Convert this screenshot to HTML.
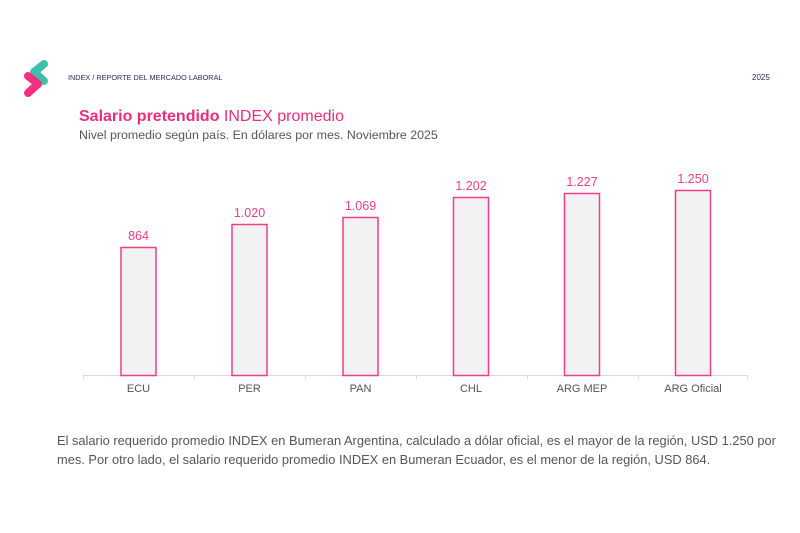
<!DOCTYPE html>
<html><head><meta charset="utf-8"><style>
body{margin:0;width:800px;height:533px;background:#fff;position:relative;overflow:hidden;font-family:"Liberation Sans",sans-serif}
.a{position:absolute;white-space:nowrap}
</style></head><body>
<svg class="a" style="left:0;top:0" width="800" height="533">
<path d="M44 64 L34 72 L44 81" stroke="#3dbfa8" stroke-width="8" fill="none" stroke-linecap="round" stroke-linejoin="round"/>
<path d="M28 76 L38 84 L28 93" stroke="#f0257a" stroke-width="8" fill="none" stroke-linecap="round" stroke-linejoin="round" opacity="0.95"/>
<line x1="83" y1="375.5" x2="748" y2="375.5" stroke="#d9d9d9" stroke-width="1"/>
<g stroke="#d9d9d9"><line x1="83.5" y1="375" x2="83.5" y2="379"/><line x1="194.5" y1="375" x2="194.5" y2="379"/><line x1="305.5" y1="375" x2="305.5" y2="379"/><line x1="416.5" y1="375" x2="416.5" y2="379"/><line x1="527.5" y1="375" x2="527.5" y2="379"/><line x1="638.5" y1="375" x2="638.5" y2="379"/><line x1="747.5" y1="375" x2="747.5" y2="379"/></g>
<g fill="#f2f2f2" stroke="#ec3e8c" stroke-width="1.5">
<rect x="121" y="247.5" width="35" height="128"/>
<rect x="232" y="224.5" width="35" height="151"/>
<rect x="343" y="217.5" width="35" height="158"/>
<rect x="453.5" y="197.5" width="35" height="178"/>
<rect x="564.5" y="193.5" width="35" height="182"/>
<rect x="675.5" y="190.5" width="35" height="185"/>
</g>
<g fill="#ec3e8c" font-size="12.5" text-anchor="middle" font-family="Liberation Sans,sans-serif">
<text x="138.5" y="240">864</text><text x="249.5" y="217">1.020</text><text x="360.5" y="210">1.069</text>
<text x="471" y="190">1.202</text><text x="582" y="186">1.227</text><text x="693" y="183">1.250</text>
</g>
<g fill="#555" font-size="11" text-anchor="middle" font-family="Liberation Sans,sans-serif">
<text x="138.5" y="392">ECU</text><text x="249.5" y="392">PER</text><text x="360.5" y="392">PAN</text>
<text x="471" y="392">CHL</text><text x="582" y="392">ARG MEP</text><text x="693" y="392">ARG Oficial</text>
</g>
</svg>
<div class="a" style="left:68px;top:73px;font-size:7.3px;color:#2b2b5a">INDEX / REPORTE DEL MERCADO LABORAL</div>
<div class="a" style="left:752px;top:73px;font-size:8px;color:#2b2b5a">2025</div>
<div class="a" style="left:79px;top:108px;font-size:16px;color:#ec2d7c"><b>Salario pretendido</b> INDEX promedio</div>
<div class="a" style="left:79px;top:128px;font-size:12.4px;color:#555">Nivel promedio según país. En dólares por mes. Noviembre 2025</div>
<div class="a" style="left:57px;top:431px;font-size:12.85px;color:#555;line-height:19px">El salario requerido promedio INDEX en Bumeran Argentina, calculado a dólar oficial, es el mayor de la región, USD 1.250 por<br>mes. Por otro lado, el salario requerido promedio INDEX en Bumeran Ecuador, es el menor de la región, USD 864.</div>
</body></html>
